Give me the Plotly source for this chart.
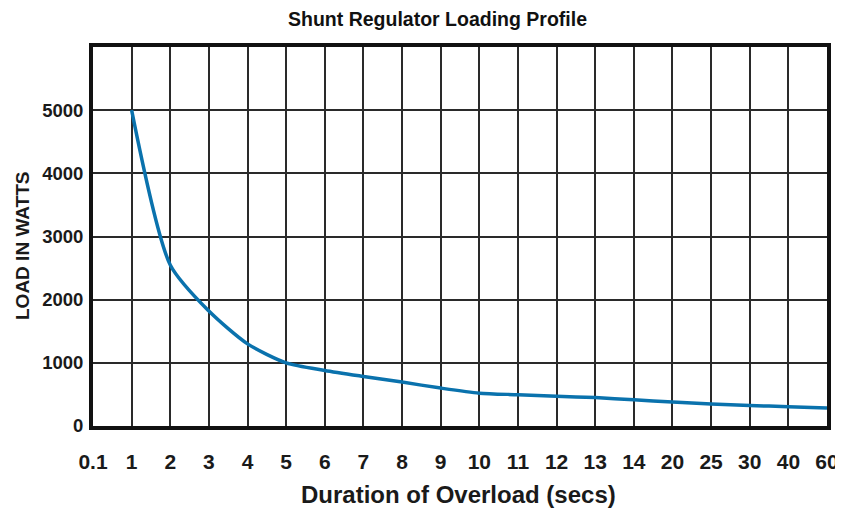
import plotly.graph_objects as go

# Data
durations = ["0.1", "1", "2", "3", "4", "5", "6", "7", "8", "9", "10",
             "11", "12", "13", "14", "20", "25", "30", "40", "60"]
load_watts = [None, 5000, 2550, 1820, 1300, 1000, 880, 785, 695, 600, 520,
              495, 470, 450, 415, 380, 350, 325, 305, 285]
y_ticks = [0, 1000, 2000, 3000, 4000, 5000]

FONT = "Liberation Sans, Arial, sans-serif"
GRID = "#2a2a2a"

fig = go.Figure()
fig.add_trace(go.Scatter(
    x=durations, y=load_watts, mode="lines",
    line=dict(color="#0a72ad", width=3.5, shape="spline", smoothing=0.7),
    connectgaps=False, hoverinfo="x+y", showlegend=False,
))

fig.update_layout(
    width=835, height=503,
    margin=dict(l=85, r=16, t=39, b=85),
    paper_bgcolor="white", plot_bgcolor="white",
    font=dict(family=FONT, color="#1a1a1a"),
    xaxis=dict(
        type="category", categoryorder="array", categoryarray=durations,
        range=[0, 19], showgrid=True, gridcolor=GRID, gridwidth=2,
        showline=True, linecolor="#111", linewidth=4, mirror=True,
        ticks="", ticklabelstandoff=14, automargin=False,
        tickfont=dict(family=FONT, size=21, color="#1a1a1a", weight="bold"),
        zeroline=False,
    ),
    yaxis=dict(
        range=[0, 6000], tickvals=y_ticks, ticktext=[str(v) for v in y_ticks],
        showgrid=True, gridcolor=GRID, gridwidth=2,
        showline=True, linecolor="#111", linewidth=4, mirror=True,
        ticks="", ticklabelstandoff=2, automargin=False,
        tickfont=dict(family=FONT, size=18.5, color="#1a1a1a", weight="bold"),
        zeroline=False,
    ),
    annotations=[
        dict(text="Shunt Regulator Loading Profile", xref="paper", yref="paper",
             x=(437 - 93) / (827 - 93), y=1, yshift=28, showarrow=False,
             font=dict(family=FONT, size=19.5, color="#111", weight="bold"),
             xanchor="center", yanchor="middle"),
        dict(text="Duration of Overload (secs)", xref="paper", yref="paper",
             x=(458 - 93) / (827 - 93), y=0, yshift=-68, showarrow=False,
             font=dict(family=FONT, size=24, color="#1a1a1a", weight="bold"),
             xanchor="center", yanchor="middle"),
        dict(text="LOAD IN WATTS", xref="paper", yref="paper",
             x=0, xshift=-71, y=(426 - 246) / (426 - 47), textangle=-90,
             showarrow=False,
             font=dict(family=FONT, size=19, color="#1a1a1a", weight="bold"),
             xanchor="center", yanchor="middle"),
    ],
)

fig.write_html("out.html")
